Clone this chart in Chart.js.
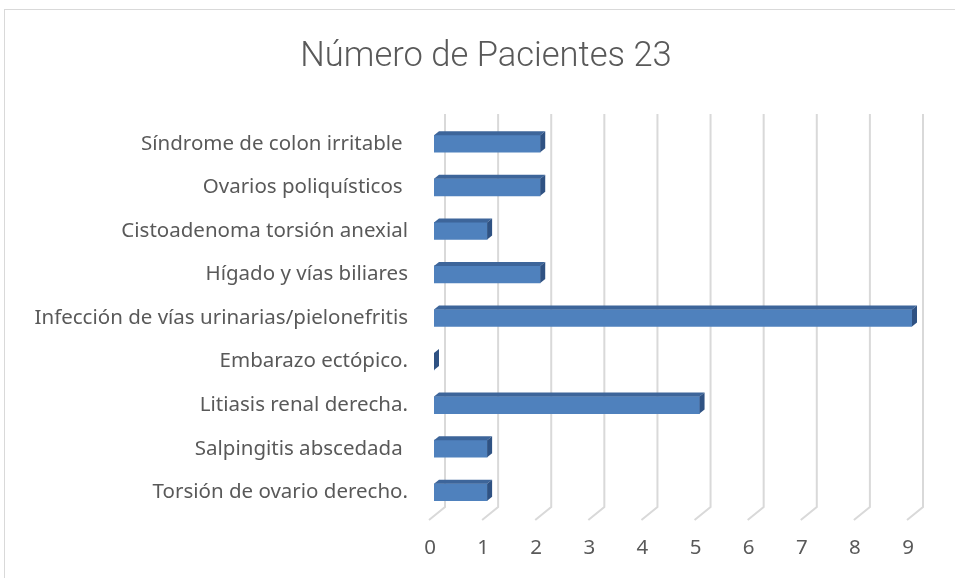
<!DOCTYPE html>
<html>
<head>
<meta charset="utf-8">
<script src="https://cdn.jsdelivr.net/npm/chart.js@4"></script>
<style>
html,body{margin:0;padding:0;background:#fff;overflow:hidden}
#frame{position:absolute;left:4px;top:9px;width:1000px;height:1000px;border:1px solid #d9d9d9}
#wrap{position:absolute;left:0;top:0;width:955px;height:578px}
</style>
</head>
<body>
<div id="frame"></div>
<div id="wrap"><canvas id="c"></canvas></div>
<script>
/* datos */
const categorias = [
    "Síndrome de colon irritable ",
    "Ovarios poliquísticos ",
    "Cistoadenoma torsión anexial",
    "Hígado y vías biliares",
    "Infección de vías urinarias/pielonefritis",
    "Embarazo ectópico.",
    "Litiasis renal derecha.",
    "Salpingitis abscedada ",
    "Torsión de ovario derecho."
];
const pacientes = [2, 2, 1, 2, 9, 0, 5, 1, 1];
const ticksX = [0, 1, 2, 3, 4, 5, 6, 7, 8, 9];
const titulo = "Número de Pacientes 23";

/* efecto 3D: caras superior y lateral */
const DX = 5, DY = 4;
const bar3d = {
    id: "bar3d",
    afterDatasetsDraw(chart){
        const ctx = chart.ctx;
        chart.getDatasetMeta(0).data.forEach(b=>{
            const top = b.y - b.height/2, bot = b.y + b.height/2;
            ctx.save();
            ctx.fillStyle = "#3d659a";
            ctx.beginPath();
            ctx.moveTo(b.base, top); ctx.lineTo(b.base+DX, top-DY);
            ctx.lineTo(b.x+DX, top-DY); ctx.lineTo(b.x, top); ctx.closePath(); ctx.fill();
            ctx.fillStyle = "#2f5283";
            ctx.beginPath();
            ctx.moveTo(b.x, top); ctx.lineTo(b.x+DX, top-DY);
            ctx.lineTo(b.x+DX, bot-DY); ctx.lineTo(b.x, bot); ctx.closePath(); ctx.fill();
            ctx.restore();
        });
    }
};

/* rejilla con fondo y suelo */
const rejilla = {
    id: "rejilla",
    // las etiquetas largas del eje Y salen del margen izquierdo: no recortarlas
    afterLayout(chart){ chart.scales.y.left = 0; },
    beforeDatasetsDraw(chart){
        const ctx = chart.ctx, a = chart.chartArea, sx = chart.scales.x;
        ctx.save();
        ctx.strokeStyle = "#d9d9d9"; ctx.lineWidth = 2;
        ticksX.forEach(v=>{
            const x = sx.getPixelForValue(v);
            ctx.beginPath();
            ctx.moveTo(x+11, a.top-8);
            ctx.lineTo(x+11, a.bottom-7);
            ctx.lineTo(x-5, a.bottom+6);
            ctx.stroke();
        });
        ctx.restore();
    }
};

new Chart(document.getElementById("c"), {
    type: "bar",
    data: {
        labels: categorias,
        datasets: [{
            data: pacientes,
            backgroundColor: "#4f81bd",
            borderWidth: 0,
            barThickness: 17
        }]
    },
    options: {
        indexAxis: "y",
        responsive: true,
        maintainAspectRatio: false,
        animation: false,
        layout: { padding: { left: 60, right: 43, top: 0, bottom: 0 } },
        plugins: {
            legend: { display: false },
            tooltip: { enabled: false },
            title: {
                display: true,
                text: titulo,
                color: "#595959",
                font: { family: "Roboto", size: 34.5, weight: "300" },
                padding: { top: 37, bottom: 43.6 }
            }
        },
        scales: {
            y: {
                grid: { display: false, drawTicks: false },
                border: { display: false },
                ticks: { color: "#595959", font: { family: "Noto Sans", size: 20.5 }, padding: 26 },
                afterFit(s){ s.width = 374; }
            },
            x: {
                min: 0, max: 9,
                grid: { display: false, drawTicks: false },
                border: { display: false },
                ticks: { stepSize: 1, color: "#595959", font: { family: "Noto Sans", size: 20.5 }, padding: 22, labelOffset: -4 },
                afterFit(s){ s.height = 64; }
            }
        }
    },
    plugins: [rejilla, bar3d]
});
</script>
</body>
</html>
